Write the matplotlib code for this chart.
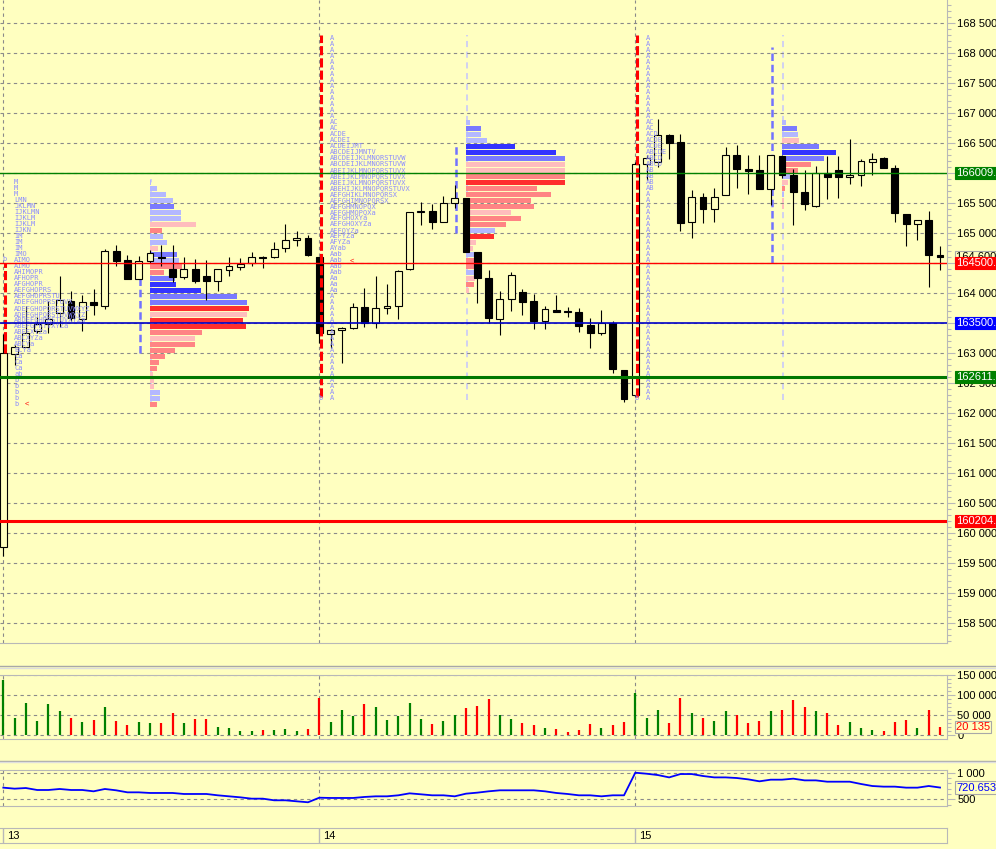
import matplotlib.pyplot as plt
import matplotlib.ticker as mticker
import matplotlib.transforms as mtransforms
from matplotlib.lines import Line2D
import numpy as np

plt.rcParams['font.family'] = ['Liberation Sans', 'DejaVu Sans']

# ---------------- data ----------------
day_labels = ['13', '14', '15']
day_start = [0, 28, 56]

opens = [159770, 162990, 163110, 163370, 163490, 163670, 163870, 163570, 163860, 163790,
         164700, 164560, 164230, 164530, 164610, 164400, 164270, 164400, 164280, 164200,
         164390, 164440, 164500, 164600, 164610, 164750, 164880, 164920,
         164600, 163320, 163380, 163420, 163770, 163500, 163760, 163780, 164400, 165350,
         165370, 165190, 165500, 165580, 164680, 164250, 163570, 163900, 164020, 163870,
         163530, 163720, 163700, 163690, 163470, 163340, 163500, 162720,
         162300, 166150, 166180, 166640, 166520, 165190, 165610, 165400, 165630, 166300,
         166070, 166050, 165740, 166290, 165970, 165690, 165460, 166010, 166060, 165940,
         165970, 166190, 166260, 166090, 165320, 165150, 165220, 164640]
closes = [163000, 163100, 163330, 163490, 163570, 163890, 163590, 163860, 163800, 164700,
          164530, 164240, 164530, 164670, 164580, 164270, 164400, 164210, 164210, 164400,
          164450, 164490, 164600, 164590, 164730, 164880, 164920, 164630,
          163330, 163390, 163420, 163770, 163510, 163750, 163770, 164370, 165350, 165360,
          165190, 165500, 165580, 164680, 164250, 163580, 163900, 164300, 163860, 163530,
          163730, 163690, 163680, 163460, 163340, 163500, 162730, 162230,
          166150, 166260, 166640, 166510, 165170, 165610, 165400, 165600, 166300, 166070,
          166040, 165740, 166300, 165970, 165680, 165480, 166010, 165940, 165940, 165970,
          166200, 166230, 166080, 165340, 165160, 165220, 164630, 164600]
highs = [163320, 163140, 163790, 163600, 163870, 164290, 164040, 163970, 164070, 164740,
         164800, 164640, 164620, 164720, 164800, 164800, 164600, 164570, 164560, 164400,
         164600, 164580, 164680, 164620, 164850, 165150, 165030, 164970,
         164600, 163400, 163440, 163830, 164080, 164280, 164150, 164390, 165350, 165520,
         165490, 165620, 165800, 165590, 164690, 164390, 164040, 164360, 164070, 163980,
         163780, 163970, 163770, 163750, 163590, 163720, 163540, 162720,
         166190, 166300, 166900, 166660, 166650, 165720, 165670, 165750, 166440, 166470,
         166300, 166300, 166300, 166300, 166070, 166060, 166120, 166280, 166280, 166570,
         166240, 166340, 166270, 166140, 165320, 165220, 165370, 164790]
lows = [159620, 162800, 163100, 163340, 163340, 163440, 163540, 163370, 163640, 163740,
        164460, 164240, 164230, 164500, 164450, 164190, 164230, 164170, 163890, 164040,
        164290, 164380, 164460, 164420, 164590, 164690, 164780, 164620,
        163170, 163090, 162840, 163410, 163440, 163420, 163650, 163570, 164380, 165140,
        165070, 165180, 165420, 164680, 163830, 163510, 163310, 163710, 163630, 163400,
        163400, 163680, 163610, 163360, 163080, 163310, 162670, 162180,
        162270, 165890, 166110, 166230, 165030, 164920, 165170, 165180, 165630, 165760,
        165660, 165740, 165470, 165920, 165140, 165380, 165440, 165570, 165590, 165820,
        165790, 165970, 166080, 165190, 164790, 164880, 164110, 164380]

volumes = [138300, 43300, 80800, 35800, 78300, 60800, 43300, 33300, 38300, 70800,
           35800, 25800, 33300, 30800, 30800, 55800, 30800, 40800, 40800, 20800,
           18300, 10800, 10800, 13300, 13300, 15800, 10800, 15800,
           93300, 33300, 63300, 48300, 78300, 70800, 38300, 48300, 80800, 40800,
           28300, 35800, 50800, 68300, 73300, 90800, 50800, 40800, 30800, 25800,
           18300, 15800, 8300, 13300, 28300, 18300, 25800, 33300,
           105800, 43300, 63300, 30800, 93300, 55800, 43300, 35800, 60800, 50800,
           30800, 35800, 60800, 63300, 88300, 70800, 60800, 55800, 25800, 33300,
           18300, 13300, 10800, 33300, 38300, 18300, 63300, 20135]

indicator = [719, 700, 712, 675, 675, 694, 675, 675, 650, 694,
             669, 631, 631, 619, 619, 619, 600, 600, 600, 575,
             556, 537, 512, 512, 481, 481, 462, 444,
             530, 525, 525, 525, 544, 556, 556, 575, 612, 594,
             575, 575, 556, 606, 625, 650, 669, 669, 669, 669,
             650, 619, 600, 575, 575, 556, 575, 575,
             1000, 981, 956, 912, 975, 975, 938, 912, 912, 900,
             875, 838, 869, 869, 888, 856, 856, 831, 831, 831,
             788, 750, 738, 738, 719, 719, 750, 721]
indicator_last = 720.6530

# TPO letters, one string per 100-point row, from the top row down
tpo_top = [165850, 168250, 168250]
tpo13 = ['M', 'M', 'M', 'LMN', 'JKLMN', 'IJKLMN', 'IJKLM', 'IJKLM', 'IJKN', 'IM', 'IM', 'IM',
         'IMO', 'AIMO', 'AIMO', 'AHIMOPR', 'AFHOPR', 'AFGHOPR', 'AEFGHOPRS', 'AEFGHOPRSTU',
         'ADEFGHOPRSTUVX', 'ADEFGHOPQRSTUVWXYZ', 'ADEFGHPQRSTUVWXYZ', 'ABDEFGHPRSTUVXYZa',
         'ABEFGPRTVXYZa', 'ABEFXYZa', 'ABCXYZa', 'ABCYa', 'BCYa', 'Ca', 'Ca', 'Ca', 'ab',
         'b', 'b', 'b', 'b', 'b']
tpo14 = ['A'] * 14 + ['AC', 'AC', 'ACDE', 'ACDEI', 'ACDEIJMT', 'ABCDEIJMNTV',
                      'ABCDEIJKLMNORSTUVW', 'ABCDEIJKLMNORSTUVW', 'ABEIJKLMNOPQRSTUVX',
                      'ABEIJKLMNOPQRSTUVX', 'ABEIJKLMNOPQRSTUVX', 'ABEHIJKLMNOPQRSTUVX',
                      'AEFGHIKLMNOPQRSX', 'AEFGHIMNOPQRSX', 'AEFGHMNOPQX', 'AEFGHMOPQXa',
                      'AEFGHOXYa', 'AEFGHOXYZa', 'AEFQYZa', 'AEFYZa', 'AFYZa', 'AYab',
                      'Aab', 'Aab', 'Aab', 'Aab', 'Aa', 'Aa', 'Aa'] + ['A'] * 18
tpo15 = ['A'] * 14 + ['AC', 'AC', 'ACD', 'ACDE', 'ACDE', 'ABCDE', 'ABCD', 'ABCD',
                      'AB', 'AB', 'AB', 'AB'] + ['A'] * 35

# volume profile rows (size and buy/sell delta), from the top row down
vp_top = [165850, 166850, 166850]
vp13_size = [1, 7, 16, 23, 24, 31, 31, 46, 12, 13, 17, 8, 27, 29, 32, 14, 25, 26, 51,
             87, 97, 99, 97, 93, 96, 52, 45, 45, 25, 15, 9, 7, 3, 4, 4, 10, 10, 7]
vp13_delta = [1, 1, 1, 1, 2, 1, 1, -1, -2, 1, 1, -1, 2, 1, -2, -2, 2, 3, 3,
              2, 2, -3, -1, -3, -3, -2, -1, -2, -2, -2, -2, -2, -1, -1, -1, 1, 1, -2]
vp14_size = [4, 15, 15, 21, 49, 90, 99, 99, 99, 99, 99, 71, 85, 65, 68, 45, 55, 40, 29,
             28, 10, 7, 11, 16, 14, 11, 9, 8, 3]
vp14_delta = [1, 2, 1, 1, 3, 3, 2, -1, -1, -2, -3, -2, -2, -2, -2, -1, -2, -2, 1,
              -3, -1, -1, 1, -2, -2, 1, -1, -2, -1]
vp15_size = [4, 15, 16, 17, 37, 54, 42, 29, 16, 8, 6, 3, 2, 2, 2]
vp15_delta = [1, 2, 1, -1, 2, 3, 2, -2, -2, 1, -1, -2, 1, -1, -1]

# vertical profile markers (low, high) per day
range_red = [(163000, 164500), (162270, 168300), (162270, 168300)]
range_va = [(163000, 164500), (165000, 166500), (164500, 168100)]
range_axis = [(162100, 165900), (162220, 168300), (162220, 168300)]

levels = [166009.5, 164500.0, 163500.5, 162611.3, 160204.1]
last_price = 164600

# ---------------- layout ----------------
W, H = 996, 849
STEP = 316 / 28          # pixels per bar
X0 = 3.3                 # pixel of bar 0
PX = 500 / 30            # price per pixel, main panel
BG = '#ffffc0'
GRID = '#8a8a8a'
FRAME = '#b8b8b8'
TPO = '#8c8cff'

fig = plt.figure(figsize=(W / 100, H / 100), dpi=100, facecolor=BG)


def add_px_axes(x0, y0, x1, y1):
    a = fig.add_axes([x0 / W, 1 - y1 / H, (x1 - x0) / W, (y1 - y0) / H])
    a.set_facecolor(BG)
    a.set_xlim(-X0 / STEP, (947 - X0) / STEP)
    return a


def space_fmt(v, pos=None):
    return f'{v:,.0f}'.replace(',', ' ')


def style_panel(a, major, minor, top=True):
    a.spines['left'].set_visible(False)
    a.spines['top'].set_visible(top)
    for s in ('right', 'bottom', 'top'):
        a.spines[s].set_color(FRAME)
    a.yaxis.tick_right()
    a.yaxis.set_major_locator(mticker.MultipleLocator(major))
    a.yaxis.set_minor_locator(mticker.MultipleLocator(minor))
    a.yaxis.set_major_formatter(mticker.FuncFormatter(space_fmt))
    a.tick_params(axis='y', which='major', length=6, width=0.8, color=FRAME,
                  labelsize=8, pad=1.5)
    a.tick_params(axis='y', which='minor', length=3, width=0.8, color=FRAME)
    a.set_xticks([])
    a.grid(axis='y', which='major', color=GRID, ls=(0, (3, 3)), lw=0.8, zorder=0.5)
    for d in day_start:
        a.axvline(d, color=GRID, ls=(0, (3, 3)), lw=0.8, zorder=0.5)


def side_box(a, y, text, fc, tc, ec, z=10):
    tr = mtransforms.blended_transform_factory(a.transAxes, a.transData)
    a.text(956 / 947, y, text, transform=tr, fontsize=8, color=tc, va='center', ha='left',
           bbox=dict(boxstyle='square,pad=0.1', fc=fc, ec=ec, lw=0.8),
           clip_on=False, zorder=z)


x = np.arange(len(opens))
o = np.array(opens)
c = np.array(closes)
up = c >= o

# ---------------- main price panel ----------------
ax = add_px_axes(0, 0, 947, 643)
ax.set_ylim(168888.3 - 643 * PX, 168888.3)
style_panel(ax, 500, 100, top=False)

# volume profiles
deltacol = {3: '#3434ff', 2: '#7a7aff', 1: '#b4b8ff',
            -1: '#ffbdbd', -2: '#ff8484', -3: '#ff2e2e'}
profiles = [(vp13_size, vp13_delta), (vp14_size, vp14_delta), (vp15_size, vp15_delta)]
for d, top, (sizes, deltas) in zip(day_start, vp_top, profiles):
    rows = top - 100 * np.arange(len(sizes))
    ax.barh(rows, np.array(sizes) / STEP, left=d + 13, height=80,
            color=[deltacol[v] for v in deltas], zorder=2)

# TPO letters
for d, top, rows in zip(day_start, tpo_top, [tpo13, tpo14, tpo15]):
    for k, s in enumerate(rows):
        ax.text(d + 0.97, top - 100 * k, s, fontsize=5, family='DejaVu Sans Mono',
                color=TPO, va='center', ha='left', zorder=5)

# profile markers
for d, (lo, hi) in zip(day_start, range_axis):
    ax.vlines(d + 13.05, lo, hi, color='#c4c4ff', lw=1.1, ls=(0, (4, 3)), zorder=1.5)
for d, (lo, hi) in zip(day_start, range_va):
    ax.vlines(d + 12.1, lo, hi, color='#7272ff', lw=1.8, ls=(0, (3, 1.5)), zorder=3)

# candles
ax.vlines(x, lows, highs, color='black', lw=0.8, zorder=4)
body_lo = np.minimum(o, c)
body_h = np.maximum(np.abs(c - o), 20)
ax.bar(x, body_h, bottom=body_lo, width=0.6, color=[BG if u else 'black' for u in up],
       edgecolor='black', lw=0.8, zorder=4.5)

for d, (lo, hi) in zip(day_start, range_red):
    ax.vlines(d + 0.12, lo, hi, color='#ff0000', lw=2.2, ls=(0, (3, 1)), zorder=6)

for xx, yy in [(0.12, 164570), (28.12, 162250), (56.12, 162250)]:
    ax.text(xx, yy, 'b', fontsize=5, family='DejaVu Sans Mono', color=TPO,
            va='center', ha='center', zorder=6)
for xx, yy in [(2.1, 162150), (30.84, 164545)]:
    ax.text(xx, yy, '<', fontsize=5.5, color='#ff0000', va='center', ha='center', zorder=6)

# horizontal levels
level_style = [('#008000', 1.0), ('#ff0000', 1.0), ('#0000c8', 1.2),
               ('#007800', 2.2), ('#ff0000', 2.2)]
for lv, (col, lw) in zip(levels, level_style):
    ax.axhline(lv, color=col, lw=lw, zorder=7)

side_box(ax, last_price, space_fmt(last_price), BG, 'black', '#a8a8a8', z=9)
box_fc = ['#008000', '#ff0000', '#0000ff', '#008000', '#ff0000']
for lv, fc in zip(levels, box_fc):
    side_box(ax, lv, f'{lv:.1f}', fc, 'white', fc)

# ---------------- volume panel ----------------
av = add_px_axes(0, 675, 947, 739)
av.set_ylim(-9250, 150750)
style_panel(av, 50000, 10000)
av.vlines(x, 0, volumes, colors=['#008000' if u else '#ff0000' for u in up], lw=1.6, zorder=3)
side_box(av, volumes[-1], space_fmt(volumes[-1]), BG, '#ff0000', '#a8a8a8')

# ---------------- indicator panel ----------------
ai = add_px_axes(0, 770, 947, 806)
ai.set_ylim(374, 1051)
style_panel(ai, 500, 100)
ai.plot(x, indicator, color='#0000ff', lw=1.3, zorder=3)
side_box(ai, indicator_last, f'{indicator_last:.4f}', BG, '#0000ff', '#a8a8a8')

# ---------------- date axis ----------------
ad = add_px_axes(0, 828, 947, 843)
ad.set_ylim(0, 1)
ad.set_xticks([])
ad.set_yticks([])
ad.spines['left'].set_visible(False)
for s in ('right', 'bottom', 'top'):
    ad.spines[s].set_color(FRAME)
for d, lab in zip(day_start, day_labels):
    ad.axvline(d, color=FRAME, lw=1)
    ad.text(d + 4 / STEP, 0.45, lab, fontsize=8, va='center', ha='left')

# panel separators
for yy, col in [(666.0, '#a8a8a8'), (667.5, '#dedede'), (760.5, '#a8a8a8'), (762.0, '#dedede')]:
    fig.add_artist(Line2D([0, 1], [1 - yy / H] * 2, transform=fig.transFigure,
                          color=col, lw=1))

fig.savefig('out.png', dpi=100, facecolor=BG)
